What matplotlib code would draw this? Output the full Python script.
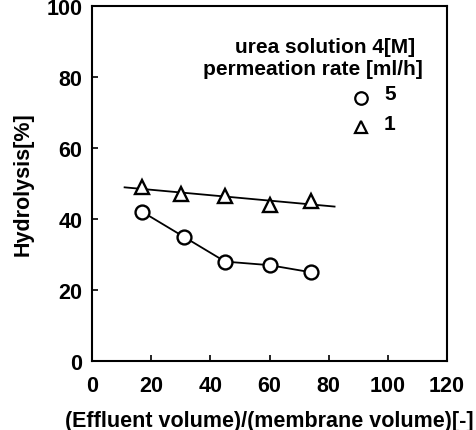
import numpy as np
import matplotlib
matplotlib.use("Agg")
import matplotlib.pyplot as plt

plt.rcParams['font.family'] = ['Liberation Sans', 'DejaVu Sans']
plt.rcParams['font.weight'] = 'bold'

# data
x_circle = [17, 31, 45, 60, 74]
y_circle = [42, 35, 28, 27, 25]
x_tri = [17, 30, 45, 60, 74]
y_tri = [49, 47, 46.5, 44, 45]
fit_range = [11, 82]
x_ticks = [0, 20, 40, 60, 80, 100, 120]
y_ticks = [0, 20, 40, 60, 80, 100]
legend_title = ["urea solution 4[M]", "permeation rate [ml/h]"]
legend_labels = ["5", "1"]

fig = plt.figure(figsize=(4.77, 4.31), dpi=100)
ax = fig.add_axes([0.193, 0.160, 0.744, 0.824])

ax.plot(x_circle, y_circle, '-', color='black', lw=1.3, zorder=2)
ax.plot(x_circle, y_circle, 'o', ms=10, mfc='white', mec='black', mew=1.7, zorder=3)

coef = np.polyfit(x_tri, y_tri, 1)
fx = np.array(fit_range)
ax.plot(fx, np.polyval(coef, fx), '-', color='black', lw=1.3, zorder=2)
ax.plot(x_tri, y_tri, '^', ms=10, mfc='white', mec='black', mew=1.7, zorder=3)

ax.set_xlim(0, 120)
ax.set_ylim(0, 100)
ax.set_xticks(x_ticks)
ax.set_yticks(y_ticks)
ax.tick_params(direction='in', length=4, width=1.2, labelsize=15.5, pad=7)
ax.tick_params(axis='x', pad=10)
for lbl in ax.get_xticklabels() + ax.get_yticklabels():
    lbl.set_fontweight('bold')
for s in ax.spines.values():
    s.set_linewidth(1.5)

ax.set_xlabel("(Effluent volume)/(membrane volume)[-]", fontsize=15.5, fontweight='bold', labelpad=10)
ax.set_ylabel("Hydrolysis[%]", fontsize=15.5, fontweight='bold', labelpad=9)

ax.text(109.2, 88.7, legend_title[0], ha='right', va='center', fontsize=15, fontweight='bold')
ax.text(111.9, 82.3, legend_title[1], ha='right', va='center', fontsize=15, fontweight='bold')
ax.plot([90.9], [74.1], 'o', ms=9, mfc='white', mec='black', mew=1.6, clip_on=False)
ax.plot([90.9], [66.0], '^', ms=9, mfc='white', mec='black', mew=1.6, clip_on=False)
ax.text(100.7, 75.2, legend_labels[0], ha='center', va='center', fontsize=15, fontweight='bold')
ax.text(100.7, 66.8, legend_labels[1], ha='center', va='center', fontsize=15, fontweight='bold')

fig.savefig("out.png", dpi=100)
